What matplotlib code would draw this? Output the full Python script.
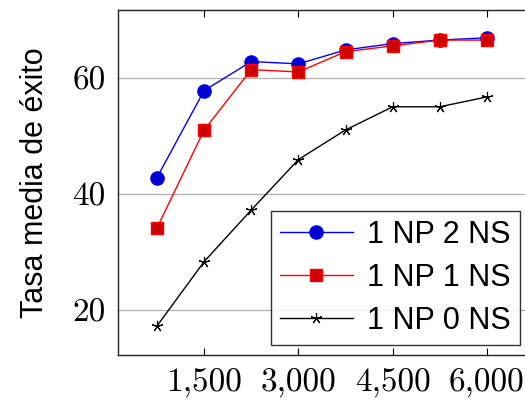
import matplotlib
matplotlib.use("Agg")
import matplotlib.pyplot as plt

# Tamaño de entrenamiento y tasa media de éxito por configuración
TAMANOS   = [750, 1500, 2250, 3000, 3750, 4500, 5250, 6000]
NP2_NS    = [42.8, 57.8, 62.8, 62.4, 64.8, 65.9, 66.5, 66.9]
NP1_NS    = [34.1, 51.0, 61.4, 61.0, 64.5, 65.5, 66.5, 66.5]
NP0_NS    = [17.2, 28.3, 37.2, 45.9, 51.0, 55.0, 55.0, 56.7]
ETIQUETAS = ["1 NP 2 NS", "1 NP 1 NS", "1 NP 0 NS"]
XTICKS    = [1500, 3000, 4500, 6000]
XTICK_LBL = ["1,500", "3,000", "4,500", "6,000"]
YTICKS    = [20, 40, 60]

fig = plt.figure(figsize=(5.25, 4.05), dpi=100)
ax = fig.add_axes([0.2248, 0.1235, 0.777, 0.852])

ax.plot(TAMANOS, NP2_NS, color="#0000ff", lw=1.0, marker="o", ms=9.5,
        mfc="#0000cc", mec="#0000ff", label=ETIQUETAS[0], zorder=3)
ax.plot(TAMANOS, NP1_NS, color="#ff0000", lw=1.0, marker="s", ms=8.5,
        mfc="#cc0000", mec="#ff0000", label=ETIQUETAS[1], zorder=4)
ax.plot(TAMANOS, NP0_NS, color="black", lw=1.0, marker=(5, 2, 0), ms=8,
        mew=0.8, label=ETIQUETAS[2], zorder=3)

ax.set_xlim(130, 6620)
ax.set_ylim(12.2, 71.7)
ax.set_xticks(XTICKS)
ax.set_xticklabels(XTICK_LBL)
ax.set_yticks(YTICKS)

ax.grid(axis="y", color="#b0b0b0", lw=0.9)
ax.set_axisbelow(True)
ax.tick_params(axis="x", direction="in", top=True, length=5, width=0.8,
               pad=10, labelsize=24, colors="black")
ax.tick_params(axis="y", direction="in", right=True, length=0, pad=9,
               labelsize=24)
for lbl in ax.get_xticklabels() + ax.get_yticklabels():
    lbl.set_fontfamily("cmr10")
for s in ax.spines.values():
    s.set_color("#222222")
    s.set_linewidth(1.0)

ax.set_ylabel("Tasa media de éxito", fontsize=22, family="Liberation Sans",
              labelpad=16)

leg = ax.legend(loc="lower right", bbox_to_anchor=(0.985, 0.029),
                prop={"family": "Liberation Sans", "size": 22},
                frameon=True, fancybox=False, edgecolor="black",
                handlelength=2.4, handletextpad=0.45, borderpad=0.3,
                labelspacing=0.42, borderaxespad=0.0)
leg.get_frame().set_linewidth(1.0)

fig.savefig("out.png", dpi=100)
